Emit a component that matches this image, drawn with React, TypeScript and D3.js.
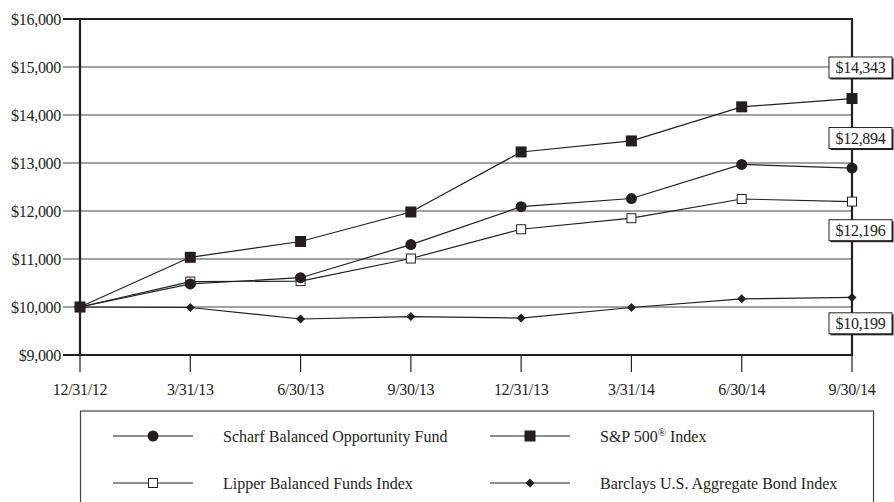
import React from "react";
import * as d3 from "d3";

const dates = ["12/31/12", "3/31/13", "6/30/13", "9/30/13", "12/31/13", "3/31/14", "6/30/14", "9/30/14"];
const scharf = [10000, 10480, 10610, 11300, 12090, 12260, 12970, 12894];
const sp500 = [10000, 11035, 11365, 11980, 13230, 13460, 14170, 14343];
const lipper = [10000, 10530, 10540, 11010, 11620, 11850, 12250, 12196];
const barclays = [10000, 9990, 9750, 9800, 9770, 9990, 10170, 10199];
const yTicks = [9000, 10000, 11000, 12000, 13000, 14000, 15000, 16000];
// end-value callout boxes: value shown and where the box sits (in $ units)
const calloutValues = [14343, 12894, 12196, 10199];
const calloutAt = [14990, 13520, 11600, 9660];

const W = 894, H = 502;
const L = 80, R = 852, T = 19, B = 355;
const ink = "#231f20";
const font = "'Liberation Serif', 'Times New Roman', serif";

type Marker = "circle" | "square" | "open" | "diamond";
const series: { name: string; values: number[]; marker: Marker }[] = [
  { name: "Barclays", values: barclays, marker: "diamond" },
  { name: "Lipper", values: lipper, marker: "open" },
  { name: "Scharf", values: scharf, marker: "circle" },
  { name: "SP", values: sp500, marker: "square" },
];

function MarkerShape({ kind, x, y }: { kind: Marker; x: number; y: number }) {
  if (kind === "circle") return <circle cx={x} cy={y} r={5.5} fill={ink} />;
  if (kind === "square") return <rect x={x - 5.5} y={y - 5.5} width={11} height={11} fill={ink} />;
  if (kind === "open")
    return <rect x={x - 4.5} y={y - 4.5} width={9} height={9} fill="white" stroke={ink} strokeWidth={1} />;
  const s = 4.5;
  return <path d={`M${x},${y - s}L${x + s},${y}L${x},${y + s}L${x - s},${y}Z`} fill={ink} />;
}

export default function App() {
  const x = d3.scalePoint<string>().domain(dates).range([L, R]);
  const y = d3.scaleLinear().domain([9000, 16000]).range([B, T]);
  const line = d3
    .line<number>()
    .x((_, i) => x(dates[i]) as number)
    .y((d) => y(d));

  const legend = [
    { label: "Scharf Balanced Opportunity Fund", marker: "circle" as Marker, lx: 113, ly: 436, sup: false },
    { label: "S&P 500", marker: "square" as Marker, lx: 490, ly: 436, sup: true },
    { label: "Lipper Balanced Funds Index", marker: "open" as Marker, lx: 113, ly: 483, sup: false },
    { label: "Barclays U.S. Aggregate Bond Index", marker: "diamond" as Marker, lx: 490, ly: 483, sup: false },
  ];

  return (
    <svg width={W} height={H} style={{ position: "absolute", left: 0, top: 0, background: "white" }} fontFamily={font}>
      <rect width={W} height={H} fill="white" />
      {/* grid lines */}
      {yTicks.map((t) => (
        <g key={t}>
          <line x1={L - 17} x2={R} y1={y(t)} y2={y(t)} stroke={t === 16000 || t === 9000 ? ink : "#444"} strokeWidth={t === 16000 || t === 9000 ? 2.2 : 1.2} />
          <text x={L - 19} y={y(t)} dy="0.35em" textAnchor="end" fontSize={16} letterSpacing={-0.3} fill={ink}>
            {d3.format("$,")(t)}
          </text>
        </g>
      ))}
      {/* frame */}
      <line x1={L} x2={L} y1={T - 1} y2={B + 1} stroke={ink} strokeWidth={2.2} />
      <line x1={R} x2={R} y1={T - 1} y2={B + 1} stroke={ink} strokeWidth={2.2} />
      {/* x ticks */}
      {dates.map((d) => (
        <g key={d}>
          <line x1={x(d)} x2={x(d)} y1={B} y2={B + 17} stroke={ink} strokeWidth={1.2} />
          <text x={x(d)} y={B + 40} textAnchor="middle" fontSize={16} letterSpacing={-0.3} fill={ink}>
            {d}
          </text>
        </g>
      ))}
      {/* series */}
      {series.map((s) => (
        <g key={s.name}>
          <path d={line(s.values) || ""} fill="none" stroke={ink} strokeWidth={1.2} />
          {s.values.map((v, i) => (
            <MarkerShape key={i} kind={s.marker} x={x(dates[i]) as number} y={y(v)} />
          ))}
        </g>
      ))}
      {/* callouts */}
      {calloutValues.map((v, i) => {
        const cy = y(calloutAt[i]);
        const w = 63, h = 21;
        const bx = 829, by = cy - h / 2;
        return (
          <g key={v}>
            <rect x={bx + 1.5} y={by + 1.5} width={w} height={h} fill={ink} />
            <rect x={bx} y={by} width={w} height={h} fill="white" stroke={ink} strokeWidth={1} />
            <text x={bx + w / 2} y={cy} dy="0.36em" textAnchor="middle" fontSize={16} letterSpacing={-0.3} fill={ink}>
              {d3.format("$,")(v)}
            </text>
          </g>
        );
      })}
      {/* legend */}
      <rect x={80.5} y={411} width={793} height={120} fill="white" stroke="#444" strokeWidth={1.2} />
      {legend.map((l) => (
        <g key={l.label}>
          <line x1={l.lx} x2={l.lx + 80} y1={l.ly} y2={l.ly} stroke={ink} strokeWidth={1.2} />
          <MarkerShape kind={l.marker} x={l.lx + 40} y={l.ly} />
          <text x={l.lx + 110} y={l.ly} dy="0.35em" fontSize={16} fill={ink}>
            {l.label}
            {l.sup && (
              <>
                <tspan fontSize={11} dy="-0.55em">®</tspan>
                <tspan dy="0.38em"> Index</tspan>
              </>
            )}
          </text>
        </g>
      ))}
    </svg>
  );
}
